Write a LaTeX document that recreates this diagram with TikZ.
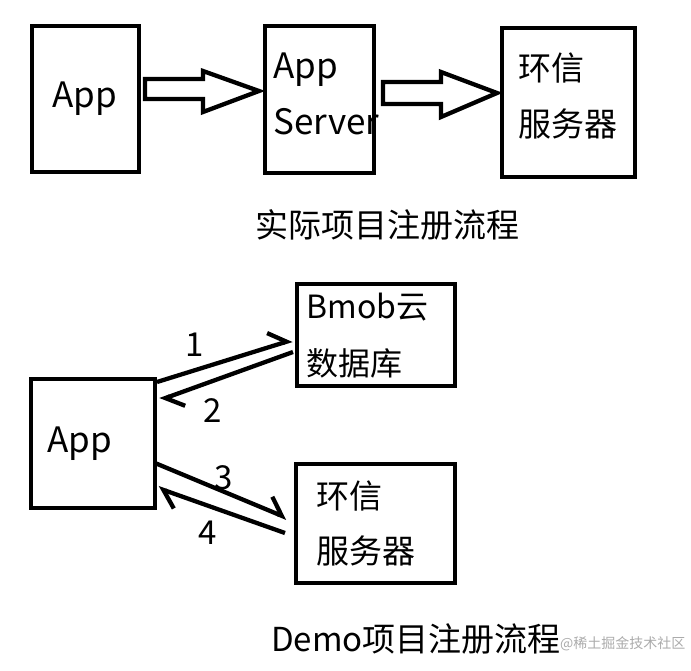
\documentclass[tikz,border=0pt]{standalone}
\usepackage{fontspec}
\setmainfont{Noto Sans CJK SC}
\usetikzlibrary{arrows.meta}
\begin{document}
\begin{tikzpicture}[x=1pt,y=-1pt,
  box/.style={draw, line width=4.3pt, inner sep=0pt, anchor=north west},
  lbl/.style={anchor=base west, inner sep=0pt, font=\fontsize{33}{38}\selectfont},
  applbl/.style={anchor=base west, inner sep=0pt, font=\fontsize{35}{40}\selectfont},
  num/.style={anchor=center, inner sep=0pt, font=\fontsize{33}{36}\selectfont},
  hollow/.style={draw, line width=4.3pt, line join=miter, fill=white},
  link/.style={line width=4.3pt, -{Straight Barb[harpoon, length=16pt, width=28pt]}}]
\useasboundingbox (0,0) rectangle (691,670);
% top row boxes
\node[box, minimum width=107pt, minimum height=146pt] (app1) at (30,24) {};
\node[box, minimum width=109pt, minimum height=147pt] (srv) at (263,24) {};
\node[box, minimum width=133pt, minimum height=149pt] (hx1) at (500,26) {};
\node[applbl] (app1t) at (52,107) {App};
\node[applbl] (srvt1) at (273,78) {App};
\node[applbl] (srvt2) at (273,134) {Server};
\node[lbl] (hx1a) at (518,80) {环信};
\node[lbl] (hx1b) at (518,136) {服务器};
% hollow arrows
\draw[hollow] (145,79) -- (203,79) -- (203,71) -- (259,91) -- (203,112) -- (203,99) -- (145,99) -- cycle;
\draw[hollow] (383,82) -- (441,82) -- (441,72) -- (497,93) -- (441,117) -- (441,104) -- (383,104) -- cycle;
\node[lbl] (title1) at (255,237.5) {实际项目注册流程};
% bottom boxes
\node[box, minimum width=158pt, minimum height=102pt] (bmob) at (295,282) {};
\node[box, minimum width=124pt, minimum height=129pt] (app2) at (29,377) {};
\node[box, minimum width=159pt, minimum height=119pt] (hx2) at (294,462) {};
\node[lbl, font=\fontsize{32}{36}\selectfont] (bmobt1) at (306.5,318) {Bmob云};
\node[lbl, font=\fontsize{32}{36}\selectfont] (bmobt2) at (306.5,375) {数据库};
\node[applbl] (app2t) at (47,452) {App};
\node[lbl] (hx2a) at (316,508) {环信};
\node[lbl] (hx2b) at (316,563) {服务器};
% connector end points
\coordinate (a1s) at (157,382);
\coordinate (a1e) at (292,340);
\coordinate (a2s) at (293,352);
\coordinate (a2e) at (160,400);
\coordinate (a3s) at (155,463);
\coordinate (a3e) at (287,518);
\coordinate (a4s) at (285,533);
\coordinate (a4e) at (158,488);
\draw[link] (a1s) -- (a1e);
\draw[link] (a2s) -- (a2e);
\draw[link] (a3s) -- (a3e);
\draw[link] (a4s) -- (a4e);
\node[num] (n1) at (195,345) {1};
\node[num] (n2) at (213,411) {2};
\node[num] (n3) at (224,478) {3};
\node[num] (n4) at (208,533) {4};
\node[lbl] (title2) at (271,651) {Demo项目注册流程};
\node[anchor=base west, inner sep=0pt, text=black!33, font=\fontsize{14}{17}\selectfont] (wm) at (560,648) {@稀土掘金技术社区};
\end{tikzpicture}
\end{document}
